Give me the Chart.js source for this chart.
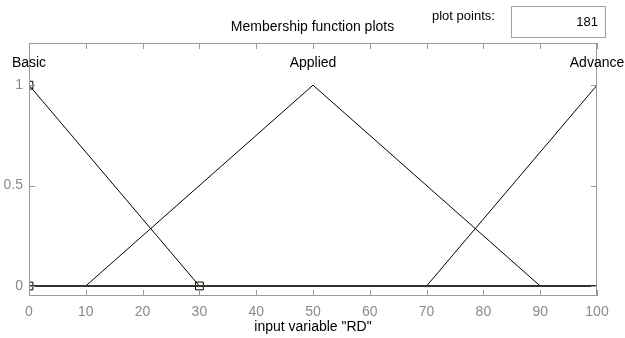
<!DOCTYPE html>
<html>
<head>
<meta charset="utf-8">
<script src="https://cdn.jsdelivr.net/npm/chart.js@4.4.1/dist/chart.umd.min.js"></script>
<style>
    body { margin: 0; background: #fff; font-family: "Liberation Sans", Arial, sans-serif; }
    #wrap { position: relative; width: 625px; height: 338px; }
    #mfChart { position: absolute; left: 0; top: 0; }
    .title { position: absolute; left: 0; width: 625px; top: 18px; text-align: center; font-size: 14px; color: #000; }
    .pp-label { position: absolute; left: 432px; top: 8px; font-size: 13px; color: #000; }
    .pp-box { position: absolute; left: 511px; top: 6px; width: 86px; height: 30px; border: 1px solid #a0a0a0;
              font-size: 13px; text-align: right; line-height: 30px; padding-right: 7px; box-sizing: content-box; }
</style>
</head>
<body>
<div id="wrap">
    <canvas id="mfChart" width="625" height="338"></canvas>
    <div class="title">Membership function plots</div>
    <div class="pp-label">plot points:</div>
    <div class="pp-box">181</div>
</div>
<script>
// membership functions of input variable "RD"
const mfNames = ['Basic', 'Applied', 'Advance'];
const mfPeaks = [0, 50, 100];
const basicX = [0, 30];
const basicY = [1, 0];
const appliedX = [10, 50, 90];
const appliedY = [0, 1, 0];
const advanceX = [70, 100];
const advanceY = [0, 1];
// selected MF (Basic) vertex markers
const markerX = [0, 0, 30];
const markerY = [1, 0, 0];
const xTicks = [0, 10, 20, 30, 40, 50, 60, 70, 80, 90, 100];
const yTicks = [0, 0.5, 1];

const fontFamily = '"Liberation Sans", Arial, sans-serif';

function toPoints(xs, ys) {
    return xs.map((x, i) => ({ x: x, y: ys[i] }));
}

const boxPlugin = {
    id: 'boxPlugin',
    afterDraw(chart) {
        const ctx = chart.ctx;
        const area = chart.chartArea;
        const xs = chart.scales.x;
        const ys = chart.scales.y;
        ctx.save();
        ctx.strokeStyle = '#999';
        ctx.lineWidth = 1;
        ctx.strokeRect(area.left + 0.5, area.top + 0.5, area.right - area.left - 1, area.bottom - area.top - 1);
        ctx.beginPath();
        xTicks.forEach(v => {
            const px = Math.round(xs.getPixelForValue(v)) + 0.5;
            ctx.moveTo(px, area.top);
            ctx.lineTo(px, area.top + 6);
            ctx.moveTo(px, area.bottom);
            ctx.lineTo(px, area.bottom - 6);
        });
        yTicks.forEach(v => {
            const py = Math.round(ys.getPixelForValue(v)) + 0.5;
            ctx.moveTo(area.left, py);
            ctx.lineTo(area.left + 6, py);
            ctx.moveTo(area.right, py);
            ctx.lineTo(area.right - 6, py);
        });
        ctx.stroke();

        // MF names above each peak
        ctx.fillStyle = '#000';
        ctx.font = '14px ' + fontFamily;
        ctx.textAlign = 'center';
        ctx.textBaseline = 'middle';
        mfNames.forEach((name, i) => {
            ctx.fillText(name, xs.getPixelForValue(mfPeaks[i]), 63);
        });
        ctx.restore();
    }
};

const lineStyle = {
    borderColor: '#000',
    borderWidth: 1,
    pointRadius: 0,
    showLine: true,
    tension: 0
};

new Chart(document.getElementById('mfChart'), {
    type: 'scatter',
    data: {
        datasets: [
            Object.assign({ data: toPoints([0, 100], [0, 0]) }, lineStyle, { borderColor: '#333', borderWidth: 2 }),
            Object.assign({ data: toPoints(basicX, basicY) }, lineStyle),
            Object.assign({ data: toPoints(appliedX, appliedY) }, lineStyle),
            Object.assign({ data: toPoints(advanceX, advanceY) }, lineStyle),
            {
                data: toPoints(markerX, markerY),
                showLine: false,
                pointStyle: 'rect',
                pointRadius: 5.5,
                borderColor: '#000',
                borderWidth: 1,
                backgroundColor: 'rgba(255,255,220,0.6)'
            }
        ]
    },
    options: {
        responsive: false,
        animation: false,
        layout: { padding: { left: 0, right: 28, top: 43, bottom: 0 } },
        plugins: { legend: { display: false }, tooltip: { enabled: false } },
        scales: {
            x: {
                type: 'linear',
                min: 0,
                max: 100,
                afterBuildTicks: s => { s.ticks = xTicks.map(v => ({ value: v })); },
                afterFit: s => { s.height = 42; },
                grid: { display: false, drawTicks: false },
                border: { display: false },
                ticks: { color: '#8a8a8a', padding: 8, font: { size: 14, family: fontFamily } },
                title: {
                    display: true,
                    text: 'input variable "RD"',
                    color: '#000',
                    padding: { top: 0, bottom: 2 },
                    font: { size: 14, family: fontFamily }
                }
            },
            y: {
                type: 'linear',
                min: -0.05,
                max: 1.21,
                afterBuildTicks: s => { s.ticks = yTicks.map(v => ({ value: v })); },
                afterFit: s => { s.width = 29; },
                grid: { display: false, drawTicks: false },
                border: { display: false },
                ticks: {
                    color: '#8a8a8a',
                    padding: 6,
                    font: { size: 14, family: fontFamily },
                    callback: v => String(v)
                }
            }
        }
    },
    plugins: [boxPlugin]
});
</script>
</body>
</html>
